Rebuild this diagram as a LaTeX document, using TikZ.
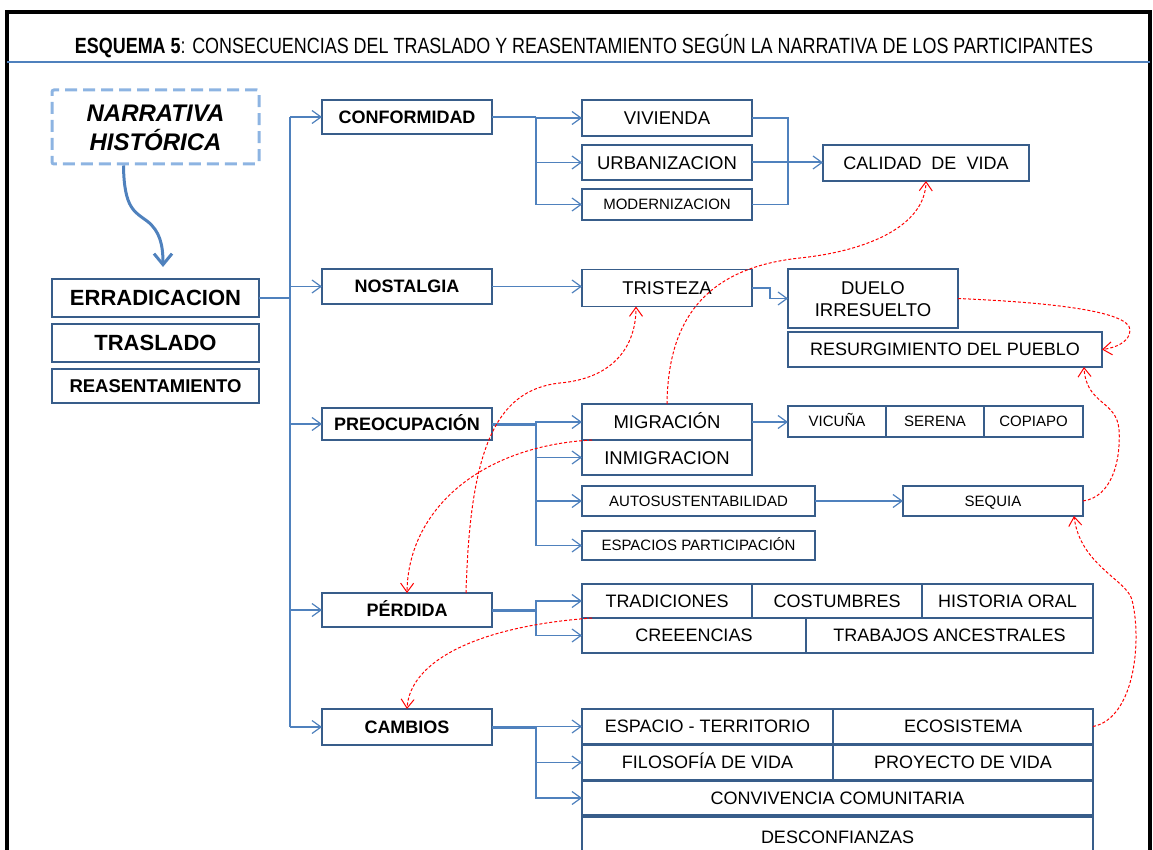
\documentclass[tikz,border=0pt]{standalone}
\usepackage{graphicx}
\usepackage{fontspec}
\setmainfont{Liberation Sans}
\usetikzlibrary{arrows.meta,calc}
\definecolor{boxc}{RGB}{56,93,138}
\definecolor{linec}{RGB}{79,129,189}
\definecolor{dashc}{RGB}{141,180,226}
\begin{document}
\begin{tikzpicture}[x=1pt,y=-1pt,
  sz/.style 2 args={minimum width=#1pt,minimum height=#2pt},
  bx/.style={draw=boxc, line width=1.5pt, inner sep=0pt, outer sep=0pt, align=center, text=black, font=\fontsize{18}{21}\selectfont, text height=12.9pt, text depth=0pt},
  bb/.style={bx, font=\bfseries\fontsize{18}{21}\selectfont},
  bm/.style={bx, font=\fontsize{18.5}{21}\selectfont, text height=13.2pt},
  sm/.style={bx, font=\fontsize{15}{18}\selectfont, text height=10.7pt},
  cn/.style={draw=linec, line width=1.5pt},
  ar/.style={cn, -{Straight Barb[length=9pt,width=13pt,line width=1.2pt]}},
  rd/.style={draw=red, line width=1pt, dash pattern=on 3pt off 2pt, -{Straight Barb[length=9pt,width=13pt,line width=1pt]}},
]
\useasboundingbox (0,0) rectangle (1153,850);
% frame
\draw[line width=4pt] (7,860) -- (7,12) -- (1150,12) -- (1150,860);
\draw[draw=linec, line width=2.5pt] (7,62) -- (1150,62);
\node[anchor=base, inner sep=0pt] (title) at (584,54) {\resizebox{1018pt}{\height}{\fontsize{22}{22}\selectfont\textbf{ESQUEMA 5}: CONSECUENCIAS DEL TRASLADO Y REASENTAMIENTO SEGÚN LA NARRATIVA DE LOS PARTICIPANTES}};

% left column
\node[draw=dashc, line width=3pt, dash pattern=on 12pt off 6pt, rounded corners=2pt, sz={207}{74}, align=center, inner sep=0pt, text height=46.2pt, text depth=0pt, font=\bfseries\itshape\fontsize{24}{29}\selectfont] (narr) at (155.5,127) {NARRATIVA\\HISTÓRICA};
\node[bx, sz={207}{38}, font=\bfseries\fontsize{22}{24}\selectfont, text height=15.8pt] (err) at (155.5,298) {ERRADICACION};
\node[bx, sz={207}{38}, font=\bfseries\fontsize{22}{24}\selectfont, text height=15.8pt] (tras) at (155.5,343) {TRASLADO};
\node[bx, sz={207}{34}, font=\bfseries\fontsize{18.5}{20}\selectfont, text height=13.2pt] (reas) at (155.5,386) {REASENTAMIENTO};
\draw[draw=linec, line width=3pt, -{Straight Barb[length=11pt,width=18pt,line width=3pt]}]
  ($(narr.south)+(-32,0)$) .. controls (124,209) and (135,212) .. (147,221)
  .. controls (160,231) and (163,245) .. ($(err.north)+(7.5,-12)$);

% second level
\node[bb, sz={170}{34}] (conf) at (407,117) {CONFORMIDAD};
\node[bb, sz={170}{35}] (nost) at (407,286.5) {NOSTALGIA};
\node[bb, sz={170}{32}] (preo) at (407,424) {PREOCUPACIÓN};
\node[bb, sz={170}{34}] (perd) at (407,610) {PÉRDIDA};
\node[bb, sz={170}{36}] (camb) at (407,727) {CAMBIOS};

% conformidad branch
\node[bm, sz={170}{36}] (viv) at (667,118) {VIVIENDA};
\node[bm, sz={170}{35}] (urb) at (667,162.5) {URBANIZACION};
\node[sm, sz={170}{31}] (mod) at (667,204.5) {MODERNIZACION};
\node[bx, sz={206}{36}] (cal) at (926,163) {CALIDAD\ \ DE\ \ VIDA};

% nostalgia branch
\node[bm, sz={170}{37}] (tris) at (667,288) {TRISTEZA};
\node[bm, sz={170}{59}, font=\fontsize{18.5}{22}\selectfont, text height=35.2pt] (duelo) at (873,298.5) {DUELO\\IRRESUELTO};
\node[bx, sz={314}{35}] (resur) at (945,349.5) {RESURGIMIENTO DEL PUEBLO};

% preocupacion branch
\node[bm, sz={170}{36}] (migr) at (667,422) {MIGRACIÓN};
\node[bm, sz={170}{35}] (inmi) at (667,457.5) {INMIGRACION};
\node[sm, sz={98}{31}] (vic) at (837,421.5) {VICUÑA};
\node[sm, sz={98}{31}] (ser) at (935,421.5) {SERENA};
\node[sm, sz={99}{31}] (cop) at (1033.5,421.5) {COPIAPO};
\node[sm, sz={233}{30}] (auto) at (698.5,501) {AUTOSUSTENTABILIDAD};
\node[sm, sz={180}{30}] (seq) at (993,501) {SEQUIA};
\node[sm, sz={233}{29}] (esp) at (698.5,545.5) {ESPACIOS PARTICIPACIÓN};

% perdida branch
\node[bx, sz={170}{34}] (trad) at (667,601) {TRADICIONES};
\node[bx, sz={170}{34}] (cost) at (837,601) {COSTUMBRES};
\node[bx, sz={171}{34}] (hist) at (1007.5,601) {HISTORIA ORAL};
\node[bx, sz={224}{35}] (cree) at (694,635.5) {CREEENCIAS};
\node[bx, sz={287}{35}] (trab) at (949.5,635.5) {TRABAJOS ANCESTRALES};

% cambios branch
\node[bx, sz={251}{35}] (espt) at (707.5,726.5) {ESPACIO - TERRITORIO};
\node[bx, sz={260}{35}] (eco) at (963,726.5) {ECOSISTEMA};
\node[bx, sz={251}{35}] (filo) at (707.5,762.5) {FILOSOFÍA DE VIDA};
\node[bx, sz={260}{35}] (proy) at (963,762.5) {PROYECTO DE VIDA};
\node[bx, sz={511}{34}] (conv) at (837.5,798) {CONVIVENCIA COMUNITARIA};
\node[bx, sz={511}{40}] (desc) at (837.5,837) {DESCONFIANZAS};

% trunk
\coordinate (tkt) at (290,117);
\coordinate (tkb) at (290,727);
\draw[cn] (err.east) -- (err.east -| tkt);
\draw[cn] (tkt) -- (tkb);
\draw[ar] (tkt) -- (conf.west);
\draw[ar] (nost.west -| tkt) -- (nost.west);
\draw[ar] (preo.west -| tkt) -- (preo.west);
\draw[ar] (perd.west -| tkt) -- (perd.west);
\draw[ar] (tkb) -- (camb.west);

% conformidad connectors
\coordinate (cj) at (536,117);
\draw[cn, line width=2pt] (conf.east) -- (cj);
\draw[ar] (cj) |- (viv.west);
\draw[ar] (cj) |- (urb.west);
\draw[ar] (cj) |- (mod.west);
\coordinate (rj) at (788,163);
\draw[cn] (viv.east) -| (rj);
\draw[cn] (mod.east) -| (rj);
\draw[ar, line width=2pt] (urb.east) -- (urb.east -| cal.west);

% nostalgia connectors
\draw[ar] (nost.east) -- (nost.east -| tris.west);
\draw[ar] (tris.east) -- ++(18,0) |- (duelo.west);

% preocupacion connectors
\coordinate (pj) at (536,424);
\draw[cn, line width=3pt] (preo.east) -- (pj);
\draw[ar] (pj) |- (migr.west);
\draw[ar] (pj) |- (inmi.west);
\draw[ar] (pj) |- (auto.west);
\draw[ar] (pj) |- (esp.west);
\draw[ar] (migr.east) -- (migr.east -| vic.west);
\draw[ar] (auto.east) -- (seq.west);

% perdida connectors
\coordinate (dj) at (536,610);
\draw[cn, line width=3pt] (perd.east) -- (dj);
\draw[ar] (dj) |- (trad.west);
\draw[ar] (dj) |- (cree.west);

% cambios connectors
\coordinate (bj) at (536,727);
\draw[cn, line width=3pt] (camb.east) -- (bj);
\draw[ar] (bj) |- (espt.west);
\draw[ar] (bj) |- (filo.west);
\draw[ar] (bj) |- (conv.west);

% red dashed relations
\draw[rd] (duelo.east) .. controls (1040,302) and (1130,310) .. (1130,330)
  .. controls (1130,342) and (1115,348) .. (resur.east);
\draw[rd] (migr.north) .. controls (668,320) and (705,268) .. (800,258)
  .. controls (870,250.6) and (925,225) .. (cal.south);
\draw[rd] ($(perd.north)+(59,0)$) .. controls (470,450) and (495,390) .. (560,383)
  .. controls (615,378) and (636,345) .. ($(tris.south)+(-31,0)$);
\draw[rd] ($(migr.south west)+(10,0)$) .. controls (480,446) and (408,510) .. (perd.north);
\draw[rd] ($(trad.south west)+(10,0)$) .. controls (480,626) and (410,660) .. (camb.north);
\draw[rd] (seq.east) .. controls (1112,497) and (1121,460) .. (1119,430)
  .. controls (1117,400) and (1086,405) .. ($(resur.south east)+(-18,0)$);
\draw[rd] (eco.east) .. controls (1135,718) and (1142,640) .. (1132,600)
  .. controls (1127,580) and (1080,565) .. ($(seq.south east)+(-9,0)$);
\end{tikzpicture}
\end{document}
